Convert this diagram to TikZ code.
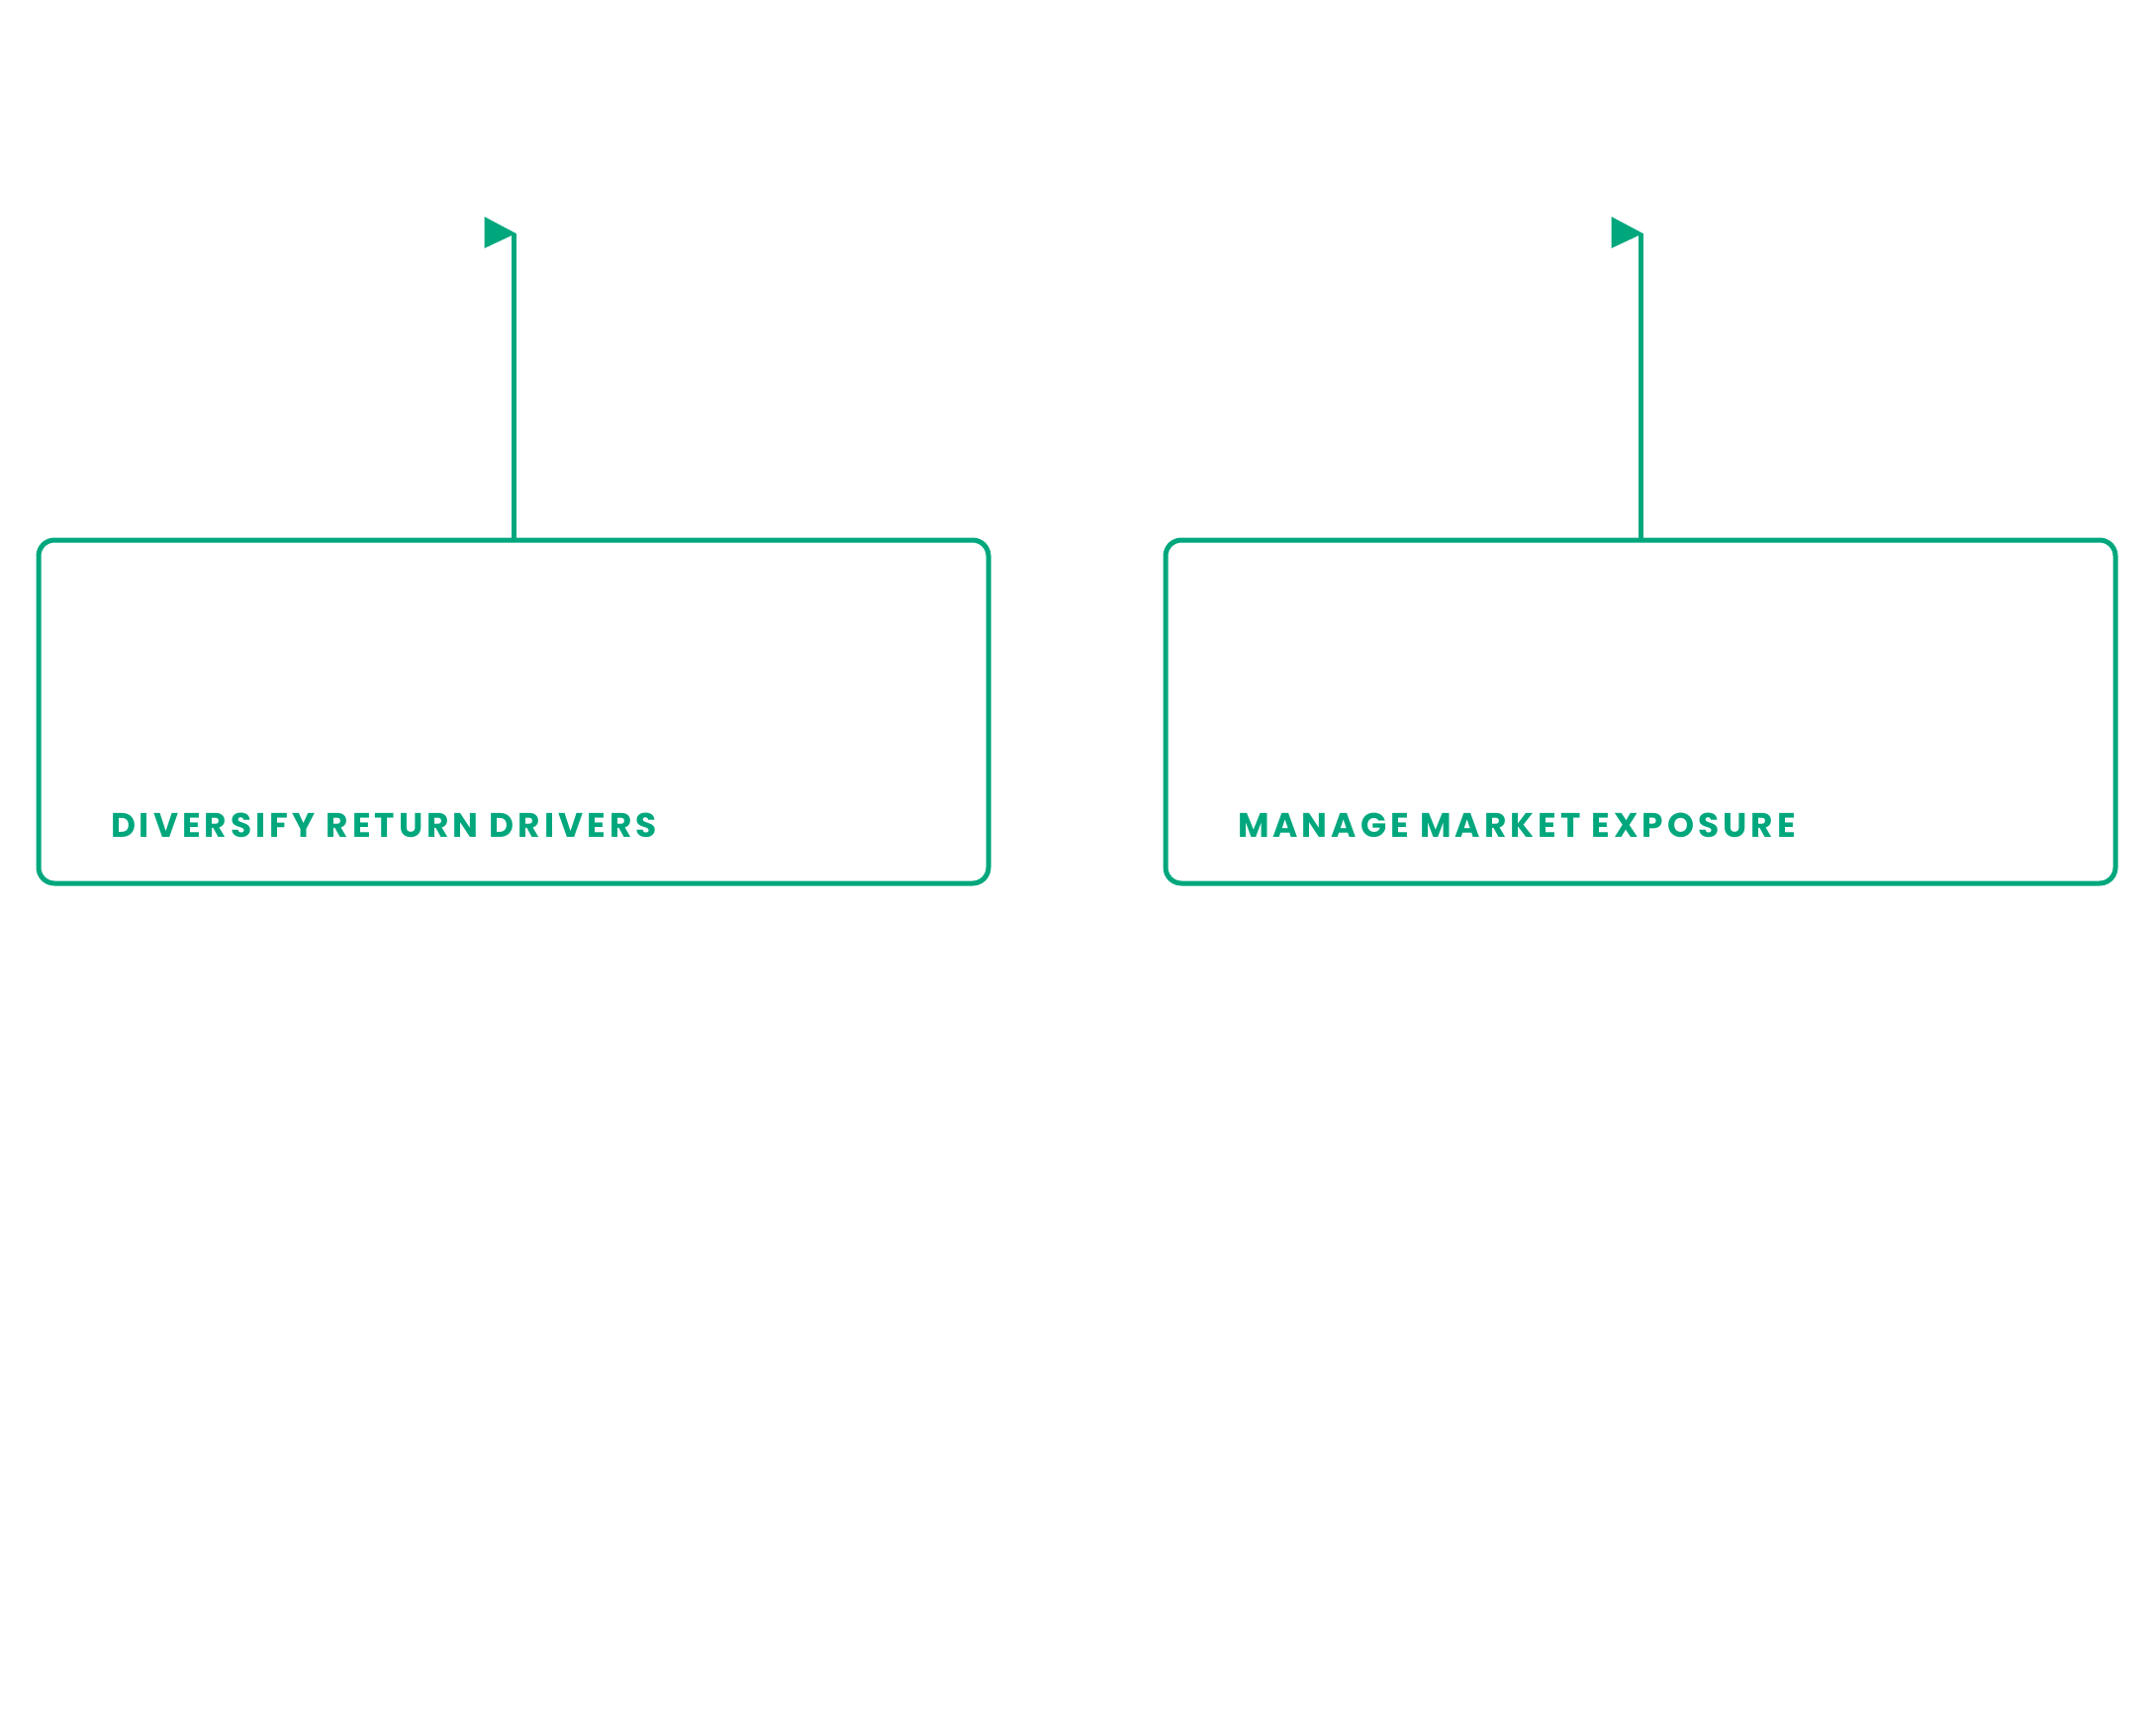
\documentclass[tikz,border=0pt]{standalone}
\usepackage{fontspec}
\setmainfont{Poppins}
\newfontfamily\labelfont[LetterSpace=11.6]{Poppins Bold}
\definecolor{brandgreen}{HTML}{00A77D}
\begin{document}
\begin{tikzpicture}[x=1pt,y=-1pt,
  goalbox/.style={draw=brandgreen, line width=5pt, rounded corners=16pt, minimum width=960pt, minimum height=347pt, inner sep=0pt, outer sep=0pt, anchor=north west},
  goallabel/.style={text=brandgreen, font=\labelfont\fontsize{34.4}{34}\selectfont, inner sep=0pt, outer sep=0pt, anchor=base west},
  pole/.style={draw=brandgreen, line width=5pt},
  pennant/.style={fill=brandgreen, draw=none}]
\useasboundingbox (0,0) rectangle (2178,1754);
% boxes
\node[goalbox] (boxA) at (39,546) {};
\node[goalbox] (boxB) at (1178,546) {};
% labels
\node[goallabel] (labA) at (112,846) {DIVERSIFY RETURN DRIVERS};
\node[goallabel] (labB) at (1251,846) {MANAGE MARKET EXPOSURE};
% flags
\coordinate (topA) at (boxA.north |- 0,236);
\coordinate (topB) at (boxB.north |- 0,236);
\draw[pole] (boxA.north) -- (topA);
\draw[pole] (boxB.north) -- (topB);
\fill[pennant] ([xshift=2.5pt]topA) -- ([xshift=-29.5pt,yshift=-15pt]topA) -- ([xshift=-29.5pt,yshift=17pt]topA) -- cycle;
\fill[pennant] ([xshift=2.5pt]topB) -- ([xshift=-29.5pt,yshift=-15pt]topB) -- ([xshift=-29.5pt,yshift=17pt]topB) -- cycle;
\end{tikzpicture}
\end{document}
